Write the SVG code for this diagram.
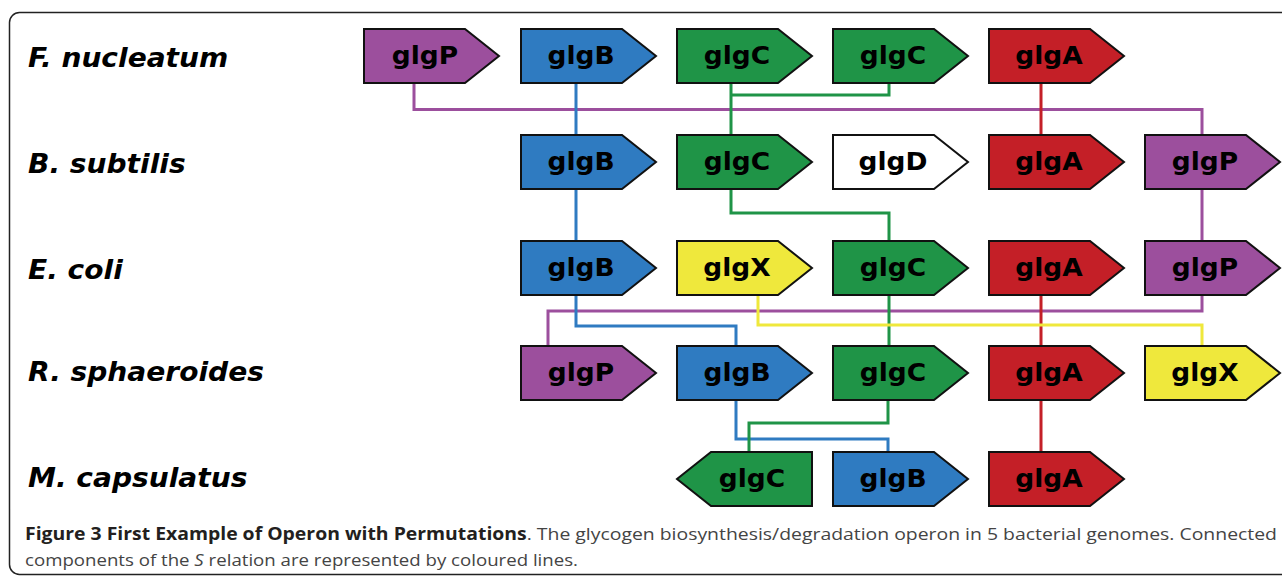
<svg xmlns="http://www.w3.org/2000/svg" xmlns:xlink="http://www.w3.org/1999/xlink" width="1282" height="577" viewBox="0 0 1282 577">
<style>
.sp{font-family:"DejaVu Sans",sans-serif;font-weight:bold;font-style:italic;font-size:26px;fill:#000}
.gt{font-family:"DejaVu Sans",sans-serif;font-weight:bold;font-size:24.5px;fill:#000;text-anchor:middle}
.gene{stroke:#111;stroke-width:2;stroke-linejoin:miter}
.P{fill:#9c4f9d}.B{fill:#2f7bc1}.C{fill:#1f9447}.A{fill:#c41f27}.X{fill:#efe83c}.D{fill:#fff}
.ln{fill:none;stroke-width:3}
.lP{stroke:#9c4f9d}.lB{stroke:#2f7bc1}.lC{stroke:#1f9447}.lA{stroke:#c41f27}.lX{stroke:#efe83c}
.cap{font-family:"Open Sans","Liberation Sans",sans-serif;font-size:17px;fill:#444}
</style>
<defs>
<path id="fwd" d="M0,0 H101 L135,27 L101,54 H0 Z"/>
<path id="rev" d="M135,0 H34 L0,27 L34,54 H135 Z"/>
</defs>
<rect x="9.5" y="12.5" width="1300" height="562" rx="10" ry="10" fill="none" stroke="#222" stroke-width="1.5"/>
<g id="species">
<text class="sp" transform="translate(28,67) scale(1.08,1)">F. nucleatum</text>
<text class="sp" transform="translate(28,173) scale(1.08,1)">B. subtilis</text>
<text class="sp" transform="translate(28,278.5) scale(1.08,1)">E. coli</text>
<text class="sp" transform="translate(28,381) scale(1.08,1)">R. sphaeroides</text>
<text class="sp" transform="translate(28,487) scale(1.08,1)">M. capsulatus</text>
</g>
<g id="connectors">
<path class="ln lP" d="M414,83 V109.5 H1202 V135 M1202,189 V241 M1202,295 V311 H548 V346"/>
<path class="ln lB" d="M576,83 V135 M576,189 V241 M576,295 V326 H736 V346 M736,400 V439 H888 V452"/>
<path class="ln lC" d="M731,83 V135 M889,83 V95 H731 M731,189 V213 H889 V241 M889,295 V346 M888,400 V423 H749 V452"/>
<path class="ln lA" d="M1041,83 V135 M1041,295 V346 M1041,400 V452"/>
<path class="ln lX" d="M758,295 V325 H1202 V346"/>
</g>
<g id="r1-glgP"><use xlink:href="#fwd" class="gene P" x="364" y="29"/><text class="gt" transform="translate(425,63.5) scale(1.08,1)">glgP</text></g>
<g id="r1-glgB"><use xlink:href="#fwd" class="gene B" x="521" y="29"/><text class="gt" transform="translate(581,63.5) scale(1.08,1)">glgB</text></g>
<g id="r1-glgC1"><use xlink:href="#fwd" class="gene C" x="677" y="29"/><text class="gt" transform="translate(737,63.5) scale(1.08,1)">glgC</text></g>
<g id="r1-glgC2"><use xlink:href="#fwd" class="gene C" x="833" y="29"/><text class="gt" transform="translate(893,63.5) scale(1.08,1)">glgC</text></g>
<g id="r1-glgA"><use xlink:href="#fwd" class="gene A" x="989" y="29"/><text class="gt" transform="translate(1049,63.5) scale(1.08,1)">glgA</text></g>

<g id="r2-glgB"><use xlink:href="#fwd" class="gene B" x="521" y="135"/><text class="gt" transform="translate(581,169.5) scale(1.08,1)">glgB</text></g>
<g id="r2-glgC"><use xlink:href="#fwd" class="gene C" x="677" y="135"/><text class="gt" transform="translate(737,169.5) scale(1.08,1)">glgC</text></g>
<g id="r2-glgD"><use xlink:href="#fwd" class="gene D" x="833" y="135"/><text class="gt" transform="translate(893,169.5) scale(1.08,1)">glgD</text></g>
<g id="r2-glgA"><use xlink:href="#fwd" class="gene A" x="989" y="135"/><text class="gt" transform="translate(1049,169.5) scale(1.08,1)">glgA</text></g>
<g id="r2-glgP"><use xlink:href="#fwd" class="gene P" x="1145" y="135"/><text class="gt" transform="translate(1205,169.5) scale(1.08,1)">glgP</text></g>

<g id="r3-glgB"><use xlink:href="#fwd" class="gene B" x="521" y="241"/><text class="gt" transform="translate(581,275.5) scale(1.08,1)">glgB</text></g>
<g id="r3-glgX"><use xlink:href="#fwd" class="gene X" x="677" y="241"/><text class="gt" transform="translate(737,275.5) scale(1.08,1)">glgX</text></g>
<g id="r3-glgC"><use xlink:href="#fwd" class="gene C" x="833" y="241"/><text class="gt" transform="translate(893,275.5) scale(1.08,1)">glgC</text></g>
<g id="r3-glgA"><use xlink:href="#fwd" class="gene A" x="989" y="241"/><text class="gt" transform="translate(1049,275.5) scale(1.08,1)">glgA</text></g>
<g id="r3-glgP"><use xlink:href="#fwd" class="gene P" x="1145" y="241"/><text class="gt" transform="translate(1205,275.5) scale(1.08,1)">glgP</text></g>

<g id="r4-glgP"><use xlink:href="#fwd" class="gene P" x="521" y="346"/><text class="gt" transform="translate(581,380.5) scale(1.08,1)">glgP</text></g>
<g id="r4-glgB"><use xlink:href="#fwd" class="gene B" x="677" y="346"/><text class="gt" transform="translate(737,380.5) scale(1.08,1)">glgB</text></g>
<g id="r4-glgC"><use xlink:href="#fwd" class="gene C" x="833" y="346"/><text class="gt" transform="translate(893,380.5) scale(1.08,1)">glgC</text></g>
<g id="r4-glgA"><use xlink:href="#fwd" class="gene A" x="989" y="346"/><text class="gt" transform="translate(1049,380.5) scale(1.08,1)">glgA</text></g>
<g id="r4-glgX"><use xlink:href="#fwd" class="gene X" x="1145" y="346"/><text class="gt" transform="translate(1205,380.5) scale(1.08,1)">glgX</text></g>

<g id="r5-glgC"><use xlink:href="#rev" class="gene C" x="677" y="452"/><text class="gt" transform="translate(752,486.5) scale(1.08,1)">glgC</text></g>
<g id="r5-glgB"><use xlink:href="#fwd" class="gene B" x="833" y="452"/><text class="gt" transform="translate(893,486.5) scale(1.08,1)">glgB</text></g>
<g id="r5-glgA"><use xlink:href="#fwd" class="gene A" x="989" y="452"/><text class="gt" transform="translate(1049,486.5) scale(1.08,1)">glgA</text></g>

<g id="caption">
<text class="cap" x="25" y="540" textLength="1252" lengthAdjust="spacingAndGlyphs"><tspan font-weight="bold" fill="#231f20">Figure 3 First Example of Operon with Permutations</tspan>. The glycogen biosynthesis/degradation operon in 5 bacterial genomes. Connected</text>
<text class="cap" x="25" y="566" textLength="553" lengthAdjust="spacingAndGlyphs">components of the <tspan font-style="italic">S</tspan> relation are represented by coloured lines.</text>
</g>
</svg>
